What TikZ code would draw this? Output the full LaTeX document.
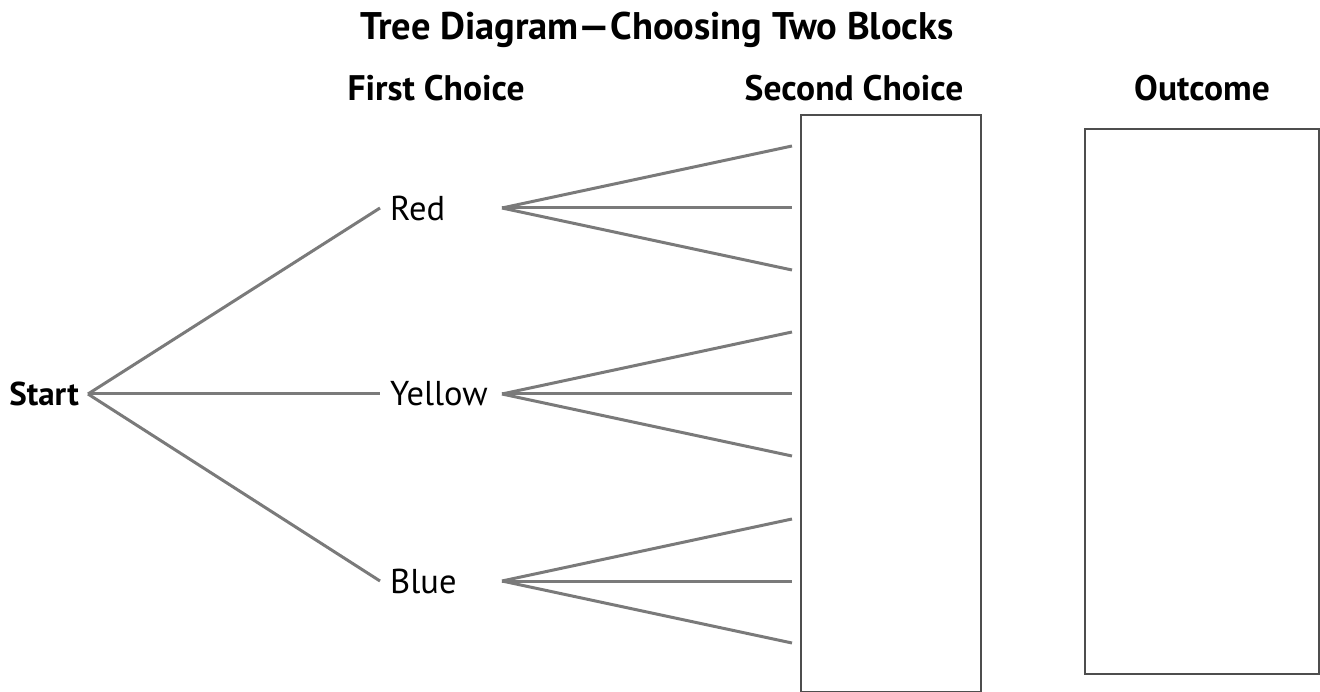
\documentclass[tikz,border=0pt]{standalone}
\usepackage{fontspec}
\setmainfont{PT Sans}

\begin{document}
\begin{tikzpicture}[x=1pt,y=1pt,yscale=-1,xscale=1]

% --- CONFIGURATION ---
\definecolor{branchGray}{RGB}{122, 122, 122} % tree lines
\definecolor{boxGray}{RGB}{78, 78, 78}       % answer boxes
\tikzset{
  lbl/.style={font=\fontsize{34.5}{40}\selectfont, inner ysep=0pt},
  head/.style={font=\bfseries\fontsize{35.5}{40}\selectfont, inner sep=0pt},
  branch/.style={draw=branchGray, line width=3pt},
  answerbox/.style={draw=boxGray, line width=2pt, inner sep=0pt, anchor=north west}
}
\useasboundingbox (0,0) rectangle (1320,692);

% --- TITLE AND HEADINGS ---
\node[head, font=\bfseries\fontsize{38.5}{44}\selectfont] (title) at (657, 30) {Tree Diagram—Choosing Two Blocks};
\node[head] (first) at (436, 88) {First Choice};
\node[head] (second) at (854, 88) {Second Choice};
\node[head] (outcome) at (1202, 88) {Outcome};

% --- FIRST CHOICE ---
\node[head, font=\bfseries\fontsize{33}{40}\selectfont, anchor=east, inner xsep=9pt] (start) at (88, 394) {Start};
\node[lbl, anchor=west, inner xsep=10pt] (red) at (380, 208) {Red};
\node[lbl, anchor=west, inner xsep=10pt] (yellow) at (380, 394) {Yellow};
\node[lbl, anchor=west, inner xsep=10pt] (blue) at (380, 581) {Blue};

\foreach \choice in {red, yellow, blue}
    \draw[branch] (start.east) -- (\choice.west);

% --- SECOND CHOICE ---
\foreach \choice/\y in {red/208, yellow/394, blue/581} {
    \coordinate (\choice fork) at (502, \y);
    \foreach \dy/\k in {-62/a, 0/b, 62/c} {
        \coordinate (\choice\k) at (792, \y+\dy);
        \draw[branch] (\choice fork) -- (\choice\k);
    }
}

% --- BOXES ---
\node[answerbox, minimum width=180pt, minimum height=577pt] (secondbox) at (800, 114) {};
\node[answerbox, minimum width=234pt, minimum height=545pt] (outcomebox) at (1084, 128) {};

\end{tikzpicture}
\end{document}
